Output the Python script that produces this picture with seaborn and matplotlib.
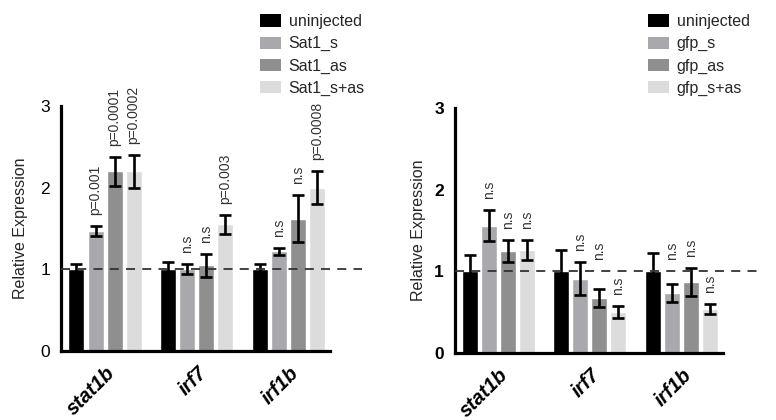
import numpy as np
import pandas as pd
import matplotlib
matplotlib.use("Agg")
import matplotlib.pyplot as plt
from matplotlib.patches import Patch
import seaborn as sns

genes = ["stat1b", "irf7", "irf1b"]
palette = ["#000000", "#a9a9ad", "#8f8f8f", "#dcdcdc"]

# Panel A: Sat1 morpholinos
sat1_groups = ["uninjected", "Sat1_s", "Sat1_as", "Sat1_s+as"]
sat1_mean = [
    [1.00, 1.00, 1.00],   # uninjected
    [1.47, 1.00, 1.22],   # Sat1_s
    [2.20, 1.05, 1.62],   # Sat1_as
    [2.20, 1.55, 2.00],   # Sat1_s+as
]
sat1_err = [
    [0.07, 0.09, 0.07],
    [0.06, 0.06, 0.04],
    [0.18, 0.14, 0.29],
    [0.20, 0.12, 0.20],
]
sat1_labels = [
    [None, None, None],
    ["p=0.001", "n.s", "n.s"],
    ["p=0.0001", "n.s", "n.s"],
    ["p=0.0002", "p=0.003", "p=0.0008"],
]

# Panel B: gfp control
gfp_groups = ["uninjected", "gfp_s", "gfp_as", "gfp_s+as"]
gfp_mean = [
    [1.00, 1.00, 1.00],
    [1.56, 0.91, 0.73],
    [1.25, 0.67, 0.87],
    [1.26, 0.50, 0.54],
]
gfp_err = [
    [0.20, 0.26, 0.22],
    [0.19, 0.20, 0.11],
    [0.13, 0.11, 0.17],
    [0.12, 0.07, 0.06],
]
gfp_labels = [
    [None, None, None],
    ["n.s", "n.s", "n.s"],
    ["n.s", "n.s", "n.s"],
    ["n.s", "n.s", "n.s"],
]

sns.set_style("white")
plt.rcParams["font.family"] = ["Liberation Sans", "DejaVu Sans"]

fig = plt.figure(figsize=(7.76, 4.2), dpi=100)
W, H = 776, 420


def panel(rect, groups, means, errs, labels, xlim, dash_end, bold_y, lpad):
    ax = fig.add_axes(rect)
    rows = []
    for g, m in zip(groups, means):
        for gene, v in zip(genes, m):
            rows.append({"gene": gene, "group": g, "value": v})
    df = pd.DataFrame(rows)
    sns.barplot(data=df, x="gene", y="value", hue="group", order=genes,
                hue_order=groups, palette=palette, errorbar=None,
                width=0.83, gap=0.16, saturation=1, legend=False, ax=ax)
    bar_sets = list(ax.containers)
    for i, cont in enumerate(bar_sets):
        xs = [b.get_x() + b.get_width() / 2 for b in cont]
        ax.errorbar(xs, means[i], yerr=errs[i], fmt="none", ecolor="black",
                    elinewidth=1.9, capsize=4, capthick=1.9, zorder=5)
        for x, m, e, t in zip(xs, means[i], errs[i], labels[i]):
            if t:
                top = m + e
                # keep labels clear of the dashed reference line
                if top < 1 and top + 0.32 > 0.97:
                    top = 1.0
                ax.annotate(t, (x, top), xytext=(0, 8),
                            textcoords="offset points", rotation=90,
                            ha="center", va="bottom", fontsize=10,
                            color="#333333")
    ax.plot([0, dash_end], [1, 1], transform=ax.get_yaxis_transform(),
            ls=(0, (5, 4)), color="#333333", lw=1.3, clip_on=False, zorder=6)
    ax.set_xlim(*xlim)
    ax.set_ylim(0, 3)
    ax.set_yticks([0, 1, 2, 3])
    ax.set_xlabel("")
    ax.set_ylabel("Relative Expression", fontsize=11.5, labelpad=lpad)
    sns.despine(ax=ax)
    for s in ["left", "bottom"]:
        ax.spines[s].set_linewidth(2.3)
        ax.spines[s].set_color("black")
    ax.tick_params(axis="both", direction="out", length=5, width=2.3,
                   color="black", labelcolor="black")
    ax.tick_params(axis="y", labelsize=12.5, pad=3)
    if bold_y:
        for t in ax.get_yticklabels():
            t.set_fontweight("bold")
    ax.set_xticks(range(len(genes)))
    ax.set_xticklabels(genes, rotation=45, ha="right", rotation_mode="anchor",
                       fontsize=14.5, fontweight="bold", fontstyle="italic")
    ax.tick_params(axis="x", pad=4)
    handles = [Patch(facecolor=c, edgecolor="none") for c in palette]
    return ax, handles


axL, hL = panel([61 / W, 1 - 351 / H, 269 / W, 245 / H], sat1_groups,
                sat1_mean, sat1_err, sat1_labels, (-0.48, 2.45), 1.12, False, 9)
axR, hR = panel([455 / W, 1 - 353 / H, 268 / W, 245 / H], gfp_groups,
                gfp_mean, gfp_err, gfp_labels, (-0.47, 2.45), 1.15, True, 6)

for handles, groups, x0 in [(hL, sat1_groups, 260), (hR, gfp_groups, 648)]:
    fig.legend(handles, groups, loc="upper left",
               bbox_to_anchor=(x0 / W, 1 - 14 / H), frameon=False,
               fontsize=11.5, handlelength=1.3, handleheight=0.8,
               handletextpad=0.5, labelspacing=0.45, borderpad=0,
               borderaxespad=0)

fig.savefig("out.png", dpi=100)
